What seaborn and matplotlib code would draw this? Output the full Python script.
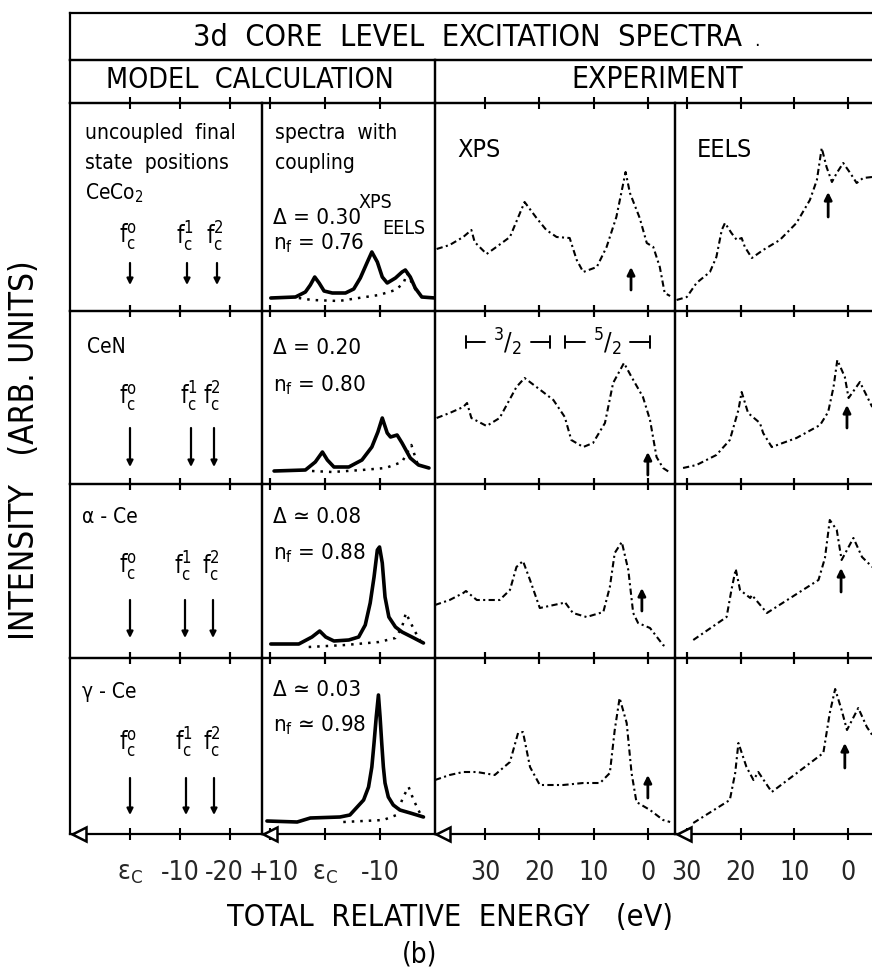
import matplotlib
matplotlib.use("Agg")
import matplotlib.pyplot as plt
from matplotlib import font_manager
from matplotlib.transforms import ScaledTranslation
import seaborn as sns

# === 1. Datos ===
compounds = ["CeCo$_2$", "CeN", "α - Ce", "γ - Ce"]
delta_txt = ["Δ = 0.30", "Δ = 0.20", "Δ ≃ 0.08", "Δ ≃ 0.03"]
nf_txt = ["n$_f$ = 0.76", "n$_f$ = 0.80", "n$_f$ = 0.88", "n$_f$ ≃ 0.98"]

# posiciones de los estados finales sin acoplar (eV respecto a eps_c)
f0_pos = [0.0, 0.0, 0.0, 0.0]
f1_pos = [-11.4, -12.2, -11.0, -11.2]
f2_pos = [-17.4, -16.8, -16.6, -16.8]

# espectros del modelo con acoplamiento: (energia, intensidad)
model_xps_ceco2 = [(9.9, 13), (5.4, 14), (3.6, 19), (2.7, 26), (1.9, 34), (1.1, 28), (0.2, 20),
                   (-1.3, 18), (-3.7, 18), (-5.2, 22), (-6.4, 33), (-7.6, 48), (-8.5, 59),
                   (-9.5, 49), (-10.4, 34), (-11.3, 28), (-12.8, 33), (-14.0, 39), (-14.6, 41),
                   (-15.5, 34), (-16.4, 23), (-17.6, 14), (-20.0, 13)]
model_eels_ceco2 = [(4.8, 13), (2.4, 11), (-2.5, 10), (-6.1, 13), (-9.8, 16), (-12.8, 21),
                    (-14.3, 28), (-14.9, 38), (-15.8, 28), (-17.0, 16)]
model_xps_cen = [(9.3, 13), (3.6, 14), (1.8, 22), (0.5, 32), (-0.4, 24), (-1.6, 17), (-4.3, 17),
                 (-6.7, 24), (-8.5, 37), (-9.6, 52), (-10.4, 66), (-11.3, 51), (-11.9, 47),
                 (-13.1, 49), (-14.0, 41), (-15.5, 26), (-17.0, 19), (-18.9, 16)]
model_eels_cen = [(2.4, 13), (-1.3, 12), (-6.7, 14), (-11.0, 16), (-14.0, 22), (-15.7, 39),
                  (-16.4, 27), (-17.0, 17)]
model_xps_alpha = [(9.9, 14), (4.8, 14), (2.4, 21), (1.0, 27), (-0.1, 21), (-1.6, 17), (-4.3, 18),
                   (-6.1, 21), (-7.3, 33), (-8.2, 55), (-8.9, 81), (-9.5, 108), (-9.9, 111),
                   (-10.4, 95), (-10.9, 61), (-11.6, 41), (-12.8, 31), (-14.0, 26), (-15.8, 21),
                   (-17.9, 15)]
model_eels_alpha = [(3.0, 11), (-3.7, 13), (-9.8, 16), (-12.8, 20), (-14.0, 31), (-14.7, 45),
                    (-15.5, 36), (-16.4, 26), (-17.3, 18)]
model_xps_gamma = [(10.6, 13), (5.1, 12), (2.7, 16), (-2.7, 17), (-4.5, 19), (-7.0, 34), (-7.9, 47),
                   (-8.5, 67), (-8.9, 91), (-9.3, 117), (-9.7, 139), (-10.0, 117), (-10.3, 91),
                   (-10.6, 67), (-10.9, 51), (-11.5, 37), (-12.4, 29), (-13.6, 24), (-15.5, 21),
                   (-17.9, 17)]
model_eels_gamma = [(-3.3, 12), (-10.6, 14), (-13.0, 19), (-14.2, 37), (-15.2, 47), (-16.1, 34),
                    (-17.6, 17)]

# experimento XPS: (energia eV, intensidad)
xps_ceco2 = [(38.9, 62), (36.5, 66), (34.0, 74), (32.5, 81), (31.9, 69), (29.7, 57), (27.9, 64),
             (25.4, 74), (22.7, 109), (20.5, 93), (18.7, 81), (16.8, 74), (14.4, 73), (13.1, 51),
             (11.9, 39), (9.4, 44), (7.6, 64), (5.8, 94), (4.1, 139), (3.3, 118), (1.5, 93),
             (0.2, 68), (-1.0, 64), (-2.2, 44), (-3.1, 18), (-4.1, 15)]
xps_cen = [(38.9, 66), (36.5, 71), (34.0, 77), (33.3, 81), (32.5, 66), (29.7, 58), (27.3, 66),
           (24.2, 97), (22.7, 106), (19.3, 92), (17.4, 84), (15.3, 67), (14.1, 44), (11.9, 37),
           (10.1, 41), (7.9, 61), (6.4, 101), (4.4, 121), (3.0, 107), (0.9, 87), (-0.4, 64),
           (-1.6, 27), (-2.8, 16), (-4.2, 11)]
xps_alpha = [(39.2, 53), (36.5, 58), (34.0, 65), (33.5, 67), (31.5, 58), (27.3, 58), (25.4, 68),
             (24.2, 91), (23.0, 97), (21.7, 78), (19.9, 50), (15.6, 55), (15.3, 56), (13.8, 45),
             (11.3, 41), (8.2, 46), (7.0, 71), (6.1, 105), (4.8, 116), (3.6, 88), (2.7, 45),
             (1.8, 35), (-0.4, 30), (-2.8, 13), (-3.4, 11)]
xps_gamma = [(39.2, 54), (36.5, 59), (34.0, 62), (31.5, 62), (28.2, 59), (25.4, 72), (23.9, 101),
             (23.0, 102), (21.7, 67), (19.9, 49), (15.6, 49), (11.9, 51), (8.8, 51), (7.0, 61),
             (6.1, 104), (5.2, 136), (3.9, 111), (3.0, 61), (2.1, 32), (-0.4, 24), (-2.8, 14),
             (-4.1, 12)]

# experimento EELS: (energia eV, intensidad)
eels_ceco2 = [(31.9, 11), (30.0, 14), (28.2, 28), (25.7, 39), (24.5, 54), (23.5, 81), (22.9, 88),
              (21.7, 78), (20.7, 71), (19.8, 73), (19.2, 64), (17.9, 53), (15.8, 61), (12.7, 71),
              (9.6, 88), (7.1, 111), (5.8, 131), (4.9, 163), (4.0, 144), (3.0, 129), (2.1, 138),
              (0.9, 148), (-0.4, 138), (-1.6, 128), (-2.8, 133), (-4.5, 134)]
eels_cen = [(30.7, 16), (28.2, 19), (24.5, 29), (22.0, 44), (20.4, 74), (19.8, 92), (18.6, 71),
            (16.4, 61), (15.8, 51), (14.2, 37), (9.6, 46), (5.2, 59), (3.7, 72), (2.7, 97),
            (2.0, 124), (0.6, 107), (-0.1, 86), (-2.2, 102), (-4.5, 77)]
eels_alpha = [(28.8, 18), (22.6, 41), (21.7, 68), (20.9, 89), (20.1, 68), (18.2, 60), (17.9, 63),
              (15.1, 45), (5.5, 78), (4.3, 100), (3.4, 138), (2.1, 128), (1.2, 98), (-1.0, 120),
              (-2.6, 101), (-4.5, 91)]
eels_gamma = [(28.8, 11), (22.0, 34), (21.0, 61), (20.4, 91), (18.9, 67), (17.6, 54), (16.7, 62),
              (14.2, 42), (4.6, 81), (3.4, 121), (2.4, 145), (1.2, 124), (0.2, 104), (-1.9, 126),
              (-3.5, 107), (-4.5, 99)]

# flechas (umbral) en los espectros experimentales
xps_arrow_e = [3.1, 0.0, 1.1, 0.0]
xps_arrow_i = [(21, 44), (9, 32), (47, 70), (36, 59)]
eels_arrow_e = [3.7, 0.2, 1.3, 0.6]
eels_arrow_i = [(94, 119), (56, 79), (66, 90), (66, 91)]

model_xps = [model_xps_ceco2, model_xps_cen, model_xps_alpha, model_xps_gamma]
model_eels = [model_eels_ceco2, model_eels_cen, model_eels_alpha, model_eels_gamma]
xps_data = [xps_ceco2, xps_cen, xps_alpha, xps_gamma]
eels_data = [eels_ceco2, eels_cen, eels_alpha, eels_gamma]

col_ticks = [[0, -10, -20], [10, 0, -10], [30, 20, 10, 0], [30, 20, 10, 0]]
col_ticklabels = [["ε$_C$", "-10", "-20"], ["+10", "ε$_C$", "-10"],
                  ["30", "20", "10", "0"], ["30", "20", "10", "0"]]

# === 2. Estilo ===
sns.set_style("white")
avail = {f.name for f in font_manager.fontManager.ttflist}
narrow = [f for f in ["DejaVu Sans Condensed", "Liberation Sans Narrow"] if f in avail]
plt.rcParams["font.family"] = narrow + ["DejaVu Sans"]
plt.rcParams["font.stretch"] = "condensed"
plt.rcParams["mathtext.default"] = "regular"
plt.rcParams["text.color"] = "black"

W, H = 872, 977
fig = plt.figure(figsize=(W / 100, H / 100), dpi=100)


def px_axes(x0, y0, x1, y1):
    return fig.add_axes([x0 / W, 1 - y1 / H, (x1 - x0) / W, (y1 - y0) / H])


def ftext(x, y, s, **kw):
    kw.setdefault("va", "center")
    fig.text(x / W, 1 - y / H, s, **kw)


def frame(ax, lw=1.6):
    ax.set_xticks([])
    ax.set_yticks([])
    for sp in ax.spines.values():
        sp.set_visible(True)
        sp.set_color("black")
        sp.set_linewidth(lw)
    ax.patch.set_alpha(0)


def unzip(pts):
    return [p[0] for p in pts], [p[1] for p in pts]


col_edges = [70, 262, 435, 675, 876]
row_edges = [103, 311, 484, 658, 834]
xlims = [(12, -26.4), (11.5, -20), (39.2, -5), (32.2, -5.2)]
exp_ls = (0, (3, 1.6, 1, 1.6))
# pequenos desplazamientos (px) de algunas etiquetas para que no se pisen
label_shift = {(0, 2): -6, (1, 0): 3}

# === 3. Cabeceras ===
ax_t = px_axes(70, 13, 876, 60)
frame(ax_t)
ftext(467, 37, "3d  CORE  LEVEL  EXCITATION  SPECTRA", ha="center", fontsize=22)
ftext(757, 40, ".", ha="center", fontsize=14)
ax_m = px_axes(70, 60, 435, 103)
frame(ax_m)
ftext(250, 80, "MODEL  CALCULATION", ha="center", fontsize=20.5)
ax_e = px_axes(435, 60, 876, 103)
frame(ax_e)
ftext(657, 80, "EXPERIMENT", ha="center", fontsize=21.5)

# === 4. Paneles ===
for r in range(4):
    y0, y1 = row_edges[r], row_edges[r + 1]
    for c in range(4):
        ax = px_axes(col_edges[c], y0, col_edges[c + 1], y1)
        ax.set_xlim(*xlims[c])
        ax.set_ylim(0, y1 - y0)
        for sp in ax.spines.values():
            sp.set_visible(True)
            sp.set_color("black")
            sp.set_linewidth(1.6)
        ax.patch.set_alpha(0)
        ax.set_yticks([])
        ax.set_xticks(col_ticks[c])
        ax.tick_params(axis="x", direction="inout", length=8, width=1.5, color="black",
                       top=True, bottom=True, labelbottom=(r == 3), labelsize=19, pad=15)
        if r == 3:
            ax.set_xticklabels(col_ticklabels[c])
            for k, lab in enumerate(ax.get_xticklabels()):
                if (c, k) in label_shift:
                    dx = label_shift[(c, k)] / 100
                    lab.set_transform(lab.get_transform() + ScaledTranslation(dx, 0, fig.dpi_scale_trans))
            ax.plot(0.045 if c != 2 else 0.035, 0, marker="<", ms=10, mfc="white", mec="black",
                    mew=1.8, transform=ax.transAxes, clip_on=False, zorder=6)

        if c == 0:
            lab_i = [74, 87, 91, 91][r]
            a_top, a_bot = [(48, 26), (56, 17), (58, 20), (56, 19)][r]
            for e, sup in zip([f0_pos[r], f1_pos[r], f2_pos[r]], ["o", "1", "2"]):
                ax.text(e + 0.4, lab_i, "f$_c^{%s}$" % sup, ha="center", va="center", fontsize=17)
                ax.annotate("", xy=(e, a_bot), xytext=(e, a_top),
                            arrowprops=dict(arrowstyle="-|>", lw=1.6, color="black",
                                            mutation_scale=9, shrinkA=0, shrinkB=0))
        elif c == 1:
            ex, iy = unzip(model_eels[r])
            sns.lineplot(x=ex, y=iy, ax=ax, color="black", lw=1.8, linestyle=(0, (1, 2.4)),
                         sort=False, estimator=None)
            ex, iy = unzip(model_xps[r])
            sns.lineplot(x=ex, y=iy, ax=ax, color="black", lw=2.6, sort=False, estimator=None)
        elif c == 2:
            ex, iy = unzip(xps_data[r])
            sns.lineplot(x=ex, y=iy, ax=ax, color="black", lw=1.5, linestyle=exp_ls,
                         sort=False, estimator=None)
            ax.annotate("", xy=(xps_arrow_e[r], xps_arrow_i[r][1]),
                        xytext=(xps_arrow_e[r], xps_arrow_i[r][0]),
                        arrowprops=dict(arrowstyle="-|>", lw=2, color="black",
                                        mutation_scale=11, shrinkA=0, shrinkB=0))
        else:
            ex, iy = unzip(eels_data[r])
            sns.lineplot(x=ex, y=iy, ax=ax, color="black", lw=1.5, linestyle=exp_ls,
                         sort=False, estimator=None)
            ax.annotate("", xy=(eels_arrow_e[r], eels_arrow_i[r][1]),
                        xytext=(eels_arrow_e[r], eels_arrow_i[r][0]),
                        arrowprops=dict(arrowstyle="-|>", lw=2, color="black",
                                        mutation_scale=11, shrinkA=0, shrinkB=0))
        ax.set_xlabel("")
        ax.set_ylabel("")

        # llaves 3/2 y 5/2 en XPS de CeN
        if r == 1 and c == 2:
            for el, er, lab in [(33.5, 18.0, "$^3$/$_2$"), (15.3, -0.4, "$^5$/$_2$")]:
                mid = (el + er) / 2
                ax.plot([el, mid + 4.2], [142, 142], color="black", lw=1.4)
                ax.plot([mid - 4.2, er], [142, 142], color="black", lw=1.4)
                ax.plot([el, el], [136, 148], color="black", lw=1.4)
                ax.plot([er, er], [136, 148], color="black", lw=1.4)
                ax.text(mid, 142, lab, ha="center", va="center", fontsize=18)

# === 5. Textos ===
ftext(85, 133, "uncoupled  final", fontsize=15)
ftext(85, 163, "state  positions", fontsize=15)
ftext(85, 193, compounds[0], fontsize=15)
ftext(87, 347, compounds[1], fontsize=15)
ftext(82, 517, compounds[2], fontsize=15)
ftext(82, 692, compounds[3], fontsize=15)

ftext(275, 133, "spectra  with", fontsize=15)
ftext(275, 163, "coupling", fontsize=15)
for (yd, yn), d, n in zip([(218, 243), (348, 385), (517, 553), (690, 725)], delta_txt, nf_txt):
    ftext(273, yd, d, fontsize=16)
    ftext(273, yn, n, fontsize=16)
ftext(358, 202, "XPS", fontsize=14)
ftext(382, 229, "EELS", fontsize=14)

ftext(457, 150, "XPS", fontsize=18)
ftext(697, 150, "EELS", fontsize=18)

ftext(25, 450, "INTENSITY   (ARB. UNITS)", ha="center", rotation=90, fontsize=24)
ftext(450, 918, "TOTAL  RELATIVE  ENERGY   (eV)", ha="center", fontsize=22)
ftext(420, 955, "(b)", ha="center", fontsize=20)

plt.savefig("out.png", dpi=100)
